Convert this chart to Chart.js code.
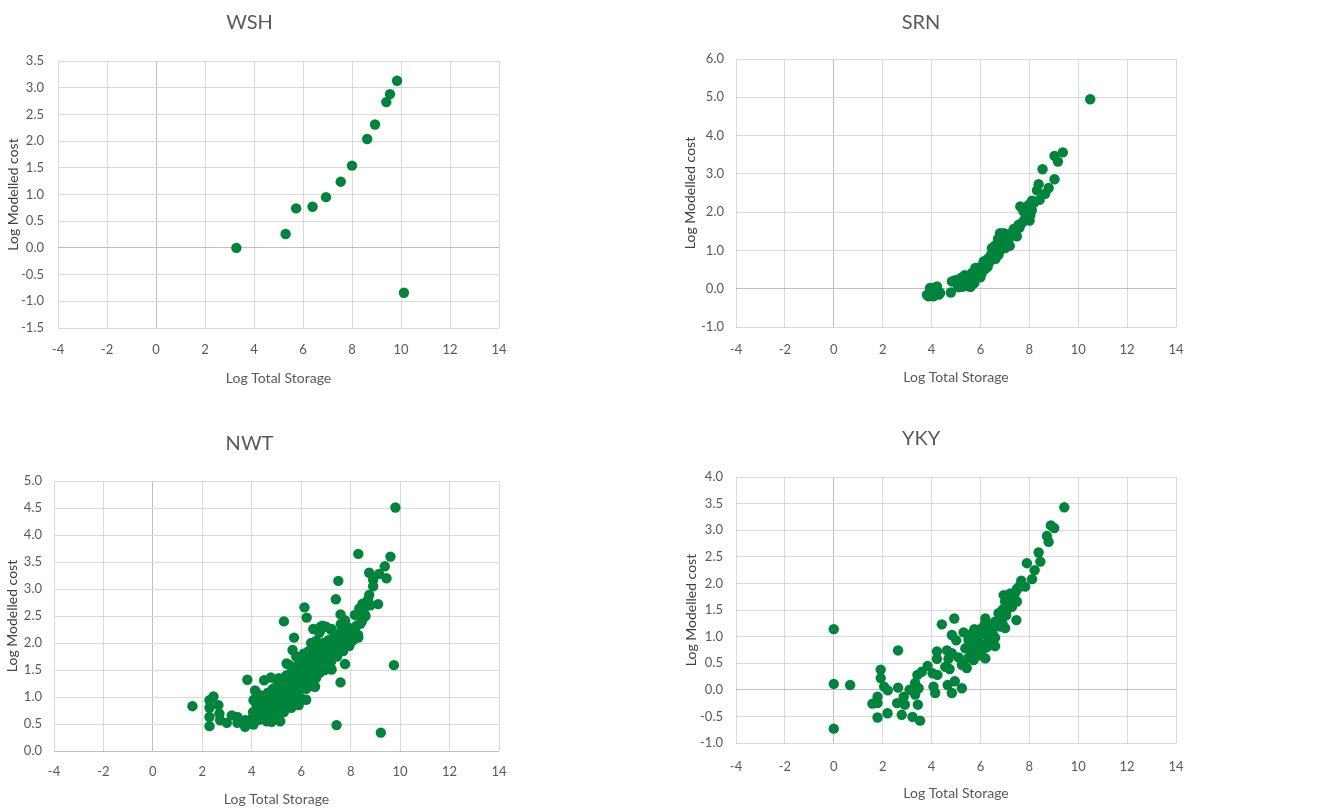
<!DOCTYPE html>
<html>
<head>
<meta charset="utf-8">
<script src="https://cdn.jsdelivr.net/npm/chart.js@4/dist/chart.umd.min.js"></script>
<style>
  html, body { margin: 0; padding: 0; background: #ffffff; }
  body { width: 1333px; height: 811px; position: relative; overflow: hidden; }
  .box { position: absolute; }
</style>
</head>
<body>
<div class="box" style="left:0;top:0;width:666px;height:405px"><canvas id="c1"></canvas></div>
<div class="box" style="left:666px;top:0;width:667px;height:405px"><canvas id="c2"></canvas></div>
<div class="box" style="left:0;top:405px;width:666px;height:406px"><canvas id="c3"></canvas></div>
<div class="box" style="left:666px;top:405px;width:667px;height:406px"><canvas id="c4"></canvas></div>
<script>
// ---------- Data ----------
const chartTitles = ["WSH", "SRN", "NWT", "YKY"];
const xAxisTitle = "Log Total Storage";
const yAxisTitle = "Log Modelled cost";
const xTicks = { min: -4, max: 14, step: 2 };

const wshX = [3.28, 5.29, 5.72, 6.39, 6.94, 7.54, 8.0, 8.62, 8.94, 9.40, 9.55, 9.84, 10.12];
const wshY = [0.0, 0.26, 0.74, 0.77, 0.95, 1.24, 1.54, 2.04, 2.31, 2.73, 2.88, 3.13, -0.84];

const srnX = [10.49, 9.37, 9.03, 9.17, 9.03, 8.54, 8.38, 8.79, 8.65, 8.31, 8.42, 8.11, 7.63, 7.76, 7.97, 8.04, 8.01, 7.87, 7.56, 7.36,
  7.49, 7.29, 6.95, 7.15, 6.88, 7.01, 6.81, 6.67, 6.54, 6.74, 6.47, 6.40, 6.26, 6.13, 6.06, 5.92, 5.79, 5.85, 5.65, 5.58,
  5.51, 5.44, 5.31, 5.17, 5.10, 4.97, 4.83, 4.79, 4.35, 4.22, 4.15, 4.01, 3.88, 3.94, 3.81, 4.08, 4.28,
  5.6, 5.7, 5.9, 6.0, 6.05, 6.2, 6.3, 6.35, 6.45, 6.55, 6.6, 6.65, 6.7, 6.75, 6.85, 6.9, 6.95, 7.05, 7.1, 7.2,
  6.5, 6.3, 6.0, 5.75, 5.5, 5.4, 5.25, 4.2, 4.1, 3.95, 4.05, 4.3, 7.6, 7.7, 7.9, 8.1, 8.2, 7.8, 6.8, 6.6,
  6.4, 6.2, 5.95, 5.85, 5.6, 5.2,
  6.58, 6.72, 6.85, 6.98, 7.08, 6.62, 6.78, 6.92, 5.45, 5.55, 5.35, 5.05];
const srnY = [4.95, 3.56, 3.47, 3.32, 2.86, 3.12, 2.73, 2.63, 2.48, 2.57, 2.32, 2.30, 2.15, 2.02, 2.19, 1.91, 1.78, 1.85, 1.67, 1.56,
  1.37, 1.45, 1.45, 1.28, 1.19, 1.06, 1.32, 1.10, 0.97, 0.89, 1.06, 0.84, 0.76, 0.71, 0.58, 0.50, 0.54, 0.32, 0.41, 0.23,
  0.06, 0.32, 0.23, 0.15, 0.04, 0.22, 0.19, -0.10, -0.11, 0.06, -0.16, -0.03, -0.20, 0.02, -0.16, -0.20, -0.07,
  0.35, 0.28, 0.42, 0.45, 0.40, 0.60, 0.68, 0.80, 0.90, 0.85, 1.00, 0.95, 1.18, 1.25, 1.05, 1.38, 1.25, 1.20, 1.35, 1.12,
  0.78, 0.58, 0.30, 0.15, 0.18, 0.12, 0.05, -0.05, 0.02, -0.12, -0.18, -0.15, 1.60, 1.72, 1.95, 2.05, 2.25, 1.80, 1.45, 0.92,
  0.72, 0.52, 0.55, 0.48, 0.05, 0.28,
  1.12, 1.30, 1.22, 1.32, 1.42, 0.78, 0.98, 1.10, 0.25, 0.15, 0.35, 0.12];

const nwtX = [9.81, 8.31, 9.61, 9.38, 8.75, 9.15, 9.45, 8.91, 8.91, 7.50, 7.40, 8.75, 9.11, 8.48, 8.80, 8.54, 8.35, 8.17, 8.40, 8.27,
  7.59, 6.13, 6.22, 5.30, 7.77, 7.94, 8.31, 6.49, 6.79, 6.73, 7.23, 5.71, 6.60, 9.75, 7.77, 7.23, 7.59, 7.43, 9.22, 5.65,
  5.41, 3.82, 4.50, 4.77, 1.60, 2.29, 2.29, 2.29, 2.29, 2.45, 2.65, 2.69, 2.72, 2.99, 3.19, 3.42, 3.42, 3.73, 3.73, 4.07,
  4.80, 4.13, 4.07, 4.34, 4.47, 4.40, 4.87, 6.56, 6.02, 6.36,
  4.05, 4.1, 4.15, 4.2, 4.25, 4.3, 4.35, 4.4, 4.45, 4.5, 4.55, 4.6, 4.65, 4.7, 4.75, 4.8, 4.85, 4.9, 4.95, 5.0,
  5.0, 5.05, 5.1, 5.1, 5.15, 5.2, 5.2, 5.25, 5.3, 5.3, 5.35, 5.4, 5.4, 5.45, 5.5, 5.5, 5.55, 5.6, 5.6, 5.65,
  5.7, 5.7, 5.75, 5.8, 5.8, 5.85, 5.9, 5.9, 5.95, 6.0, 6.0, 6.05, 6.1, 6.1, 6.15, 6.2, 6.2, 6.25, 6.3, 6.3,
  6.35, 6.4, 6.45, 6.5, 6.5, 6.55, 6.6, 6.6, 6.65, 6.7, 6.7, 6.75, 6.8, 6.85, 6.9, 6.9, 6.95, 7.0, 7.05, 7.1,
  7.15, 7.2, 7.25, 7.3, 7.35, 7.4, 7.45, 7.5, 7.55, 7.6, 7.65, 7.7, 7.75, 7.8, 7.85, 7.9, 7.95, 8.0, 8.1, 8.2,
  8.3, 8.45, 8.5, 8.6, 8.7, 5.0, 4.9, 5.3, 5.6, 5.9, 6.2, 6.5, 5.15, 4.6, 4.3, 4.0, 3.9, 5.8, 5.5, 6.4,
  6.8, 7.0, 7.2, 7.6, 6.85,
  4.8, 4.95, 5.1, 5.25, 5.4, 5.55, 5.7, 5.85, 6.0, 6.15, 6.3, 6.45, 6.6, 6.75, 6.9, 7.05, 7.2, 7.35, 7.5, 7.65,
  5.05, 5.2, 5.35, 5.5, 5.65, 5.8, 5.95, 6.1, 6.25, 6.4, 6.55, 6.7, 6.85, 7.0, 7.15, 7.3, 4.6, 4.75, 4.45, 4.25];
const nwtY = [4.51, 3.65, 3.60, 3.42, 3.30, 3.28, 3.20, 3.17, 3.05, 3.15, 2.81, 2.89, 2.72, 2.73, 2.70, 2.56, 2.64, 2.52, 2.36, 2.33,
  2.53, 2.66, 2.47, 2.40, 2.42, 2.24, 2.10, 2.26, 2.30, 2.19, 2.26, 2.10, 2.04, 1.59, 1.61, 1.51, 1.27, 0.48, 0.34, 1.87,
  1.62, 1.32, 1.31, 1.36, 0.83, 0.94, 0.80, 0.63, 0.46, 1.01, 0.85, 0.69, 0.57, 0.52, 0.66, 0.63, 0.52, 0.57, 0.45, 0.49,
  0.54, 1.12, 0.94, 1.03, 0.82, 0.63, 0.75, 1.19, 0.97, 1.25,
  0.72, 0.95, 0.62, 0.85, 1.05, 0.75, 0.90, 0.70, 1.00, 0.82, 0.95, 0.68, 1.08, 0.88, 0.75, 1.00, 1.15, 0.85, 0.95, 1.10,
  0.78, 1.25, 0.92, 1.35, 1.05, 0.80, 1.20, 1.00, 1.30, 0.88, 1.15, 1.00, 1.40, 1.22, 0.90, 1.30, 1.10, 1.45, 1.00, 1.25,
  1.55, 1.15, 1.35, 0.98, 1.50, 1.28, 1.60, 1.10, 1.42, 1.20, 1.70, 1.50, 1.30, 1.80, 1.58, 1.40, 1.15, 1.65, 1.50, 1.85,
  1.30, 1.60, 1.75, 1.45, 1.90, 1.62, 1.35, 1.80, 1.55, 1.95, 1.70, 1.45, 1.85, 1.60, 2.00, 1.75, 1.50, 1.90, 1.70, 2.05,
  1.85, 1.65, 2.00, 1.80, 2.15, 1.95, 1.75, 2.10, 1.90, 2.20, 2.00, 1.85, 2.15, 2.00, 2.30, 2.10, 1.95, 2.20, 2.05, 2.30,
  2.15, 2.40, 2.60, 2.50, 2.80, 0.65, 0.60, 0.72, 0.80, 0.85, 0.95, 1.20, 0.55, 0.55, 0.58, 0.60, 0.55, 1.75, 1.60, 2.00,
  2.25, 2.30, 2.25, 2.35, 2.32,
  0.90, 1.02, 1.12, 1.18, 1.25, 1.35, 1.42, 1.48, 1.55, 1.62, 1.70, 1.72, 1.78, 1.82, 1.88, 1.95, 1.98, 2.05, 2.02, 2.08,
  1.00, 1.08, 1.20, 1.15, 1.32, 1.22, 1.30, 1.45, 1.40, 1.52, 1.55, 1.62, 1.70, 1.75, 1.78, 1.90, 0.78, 0.92, 0.80, 0.95];

const ykyX = [9.43, 8.88, 9.02, 8.72, 8.79, 8.38, 8.45, 7.90, 8.22, 8.11, 7.67, 7.83, 7.49, 7.22, 6.95, 7.01, 7.36, 7.49, 7.29, 7.08,
  7.47, 6.74, 7.01, 6.81, 6.60, 6.47, 6.20, 6.06, 5.85, 5.75, 5.51, 5.31, 4.93, 4.42, 4.83, 5.01, 5.38, 5.65, 5.99, 6.20,
  5.72, 5.44, 5.24, 5.10, 4.83, 4.63, 4.69, 4.74, 4.56, 4.22, 4.22, 3.84, 3.60, 3.42, 4.04, 4.24, 3.47, 4.08, 4.15, 4.66,
  4.83, 4.95, 5.24, 3.33, 3.10, 3.33, 2.86, 2.91, 2.59, 2.78, 3.22, 3.53, 3.44, 2.63, 2.63, 2.21, 2.20, 2.06, 1.92, 1.92,
  1.79, 1.79, 1.58, 1.79, 0.0, 0.0, 0.0, 0.67,
  5.9, 6.0, 6.1, 6.15, 6.3, 6.35, 6.4, 6.5, 6.55, 6.6, 6.7, 6.8, 6.9, 7.0, 7.1, 7.2, 7.3, 7.4, 7.5, 7.6,
  5.8, 5.7, 5.6, 5.95, 6.05, 6.25, 6.45, 6.6, 5.5, 5.65, 6.2, 6.9, 7.05];
const ykyY = [3.43, 3.09, 3.04, 2.89, 2.78, 2.58, 2.41, 2.38, 2.25, 2.08, 2.05, 1.94, 1.88, 1.81, 1.78, 1.66, 1.66, 1.66, 1.56, 1.50,
  1.31, 1.44, 1.16, 1.19, 1.28, 1.13, 1.34, 1.16, 1.06, 1.14, 0.94, 1.08, 1.34, 1.23, 1.03, 0.93, 0.78, 0.69, 0.75, 0.59,
  0.56, 0.41, 0.47, 0.61, 0.69, 0.74, 0.58, 0.39, 0.43, 0.72, 0.58, 0.45, 0.34, 0.28, 0.31, 0.28, 0.03, 0.06, -0.06, 0.09,
  -0.06, 0.16, 0.03, 0.13, 0.0, -0.09, -0.13, -0.28, -0.25, -0.47, -0.51, -0.58, -0.28, 0.74, 0.04, -0.01, -0.44, 0.06, 0.38, 0.22,
  -0.13, -0.25, -0.26, -0.52, 1.14, 0.11, -0.73, 0.09,
  0.95, 1.05, 0.85, 1.20, 1.00, 1.10, 0.92, 1.05, 1.22, 0.98, 1.30, 1.40, 1.50, 1.55, 1.70, 1.60, 1.75, 1.80, 1.90, 1.95,
  0.85, 0.95, 0.80, 0.65, 0.72, 0.80, 0.85, 0.82, 0.60, 1.05, 1.25, 1.25, 1.40];

const yRanges = [
  { min: -1.5, max: 3.5, step: 0.5 },
  { min: -1.0, max: 6.0, step: 1.0 },
  { min: 0.0, max: 5.0, step: 0.5 },
  { min: -1.0, max: 4.0, step: 0.5 }
];

// ---------- Layout (pixels within each chart box) ----------
const layouts = [
  { W: 666, H: 405, l: 58, r: 499, t: 61, b: 328, titleCY: 23, yLabelRight: 44, yTitleX: 13, xTickCY: 350, xTitleY: 378 },
  { W: 667, H: 405, l: 70, r: 510, t: 59, b: 327, titleCY: 23, yLabelRight: 58, yTitleX: 24, xTickCY: 350, xTitleY: 377 },
  { W: 666, H: 406, l: 54, r: 499, t: 76, b: 346, titleCY: 39, yLabelRight: 42, yTitleX: 12, xTickCY: 367, xTitleY: 394 },
  { W: 667, H: 406, l: 70, r: 510, t: 72, b: 338, titleCY: 34, yLabelRight: 57, yTitleX: 25, xTickCY: 362, xTitleY: 388 }
];

const FONT = "Lato, 'Open Sans', sans-serif";
const TEXT = "#595959";
const GREEN = "#00843c";

function pairs(xs, ys) { return xs.map((x, i) => ({ x: x, y: ys[i] })); }

function gridColor(ctx) {
  return (ctx.tick && ctx.tick.value === 0) ? "#bfbfbf" : "#d9d9d9";
}

function makeChart(id, idx, xs, ys) {
  const L = layouts[idx];
  const yr = yRanges[idx];
  const titleSize = 20, titleLH = titleSize * 1.2;
  const tickSize = 13;
  const axTitleSize = 14, axLH = axTitleSize * 1.2;
  new Chart(document.getElementById(id), {
    type: "scatter",
    data: {
      datasets: [{
        data: pairs(xs, ys),
        backgroundColor: GREEN,
        borderColor: GREEN,
        borderWidth: 0,
        pointRadius: 5.2,
        pointHoverRadius: 5.2
      }]
    },
    options: {
      responsive: true,
      maintainAspectRatio: false,
      animation: false,
      events: [],
      layout: { padding: { left: 0, right: L.W - L.r, top: 0, bottom: 0 } },
      plugins: {
        legend: { display: false },
        tooltip: { enabled: false },
        title: {
          display: true,
          text: chartTitles[idx],
          color: TEXT,
          font: { family: FONT, size: titleSize, weight: "normal" },
          padding: { top: L.titleCY - titleLH / 2, bottom: L.t - L.titleCY - titleLH / 2 }
        }
      },
      scales: {
        x: {
          type: "linear",
          min: xTicks.min, max: xTicks.max,
          afterFit: (s) => { s.height = L.H - L.b; },
          ticks: {
            stepSize: xTicks.step,
            color: TEXT,
            font: { family: FONT, size: tickSize },
            padding: L.xTickCY - L.b - tickSize * 0.6,
            callback: (v) => String(v)
          },
          grid: { color: gridColor, lineWidth: 1, drawTicks: false },
          border: { display: false },
          title: {
            display: true, text: xAxisTitle, color: TEXT,
            font: { family: FONT, size: axTitleSize },
            padding: { top: 0, bottom: L.H - L.xTitleY - axLH / 2 }
          }
        },
        y: {
          type: "linear",
          min: yr.min, max: yr.max,
          afterFit: (s) => { s.width = L.l; },
          ticks: {
            stepSize: yr.step,
            color: TEXT,
            font: { family: FONT, size: tickSize },
            padding: L.l - L.yLabelRight,
            callback: (v) => Number(v).toFixed(1)
          },
          grid: { color: gridColor, lineWidth: 1, drawTicks: false },
          border: { display: false },
          title: {
            display: true, text: yAxisTitle, color: "#404040",
            font: { family: FONT, size: axTitleSize },
            padding: { top: L.yTitleX - axLH / 2, bottom: 0 }
          }
        }
      }
    }
  });
}

makeChart("c1", 0, wshX, wshY);
makeChart("c2", 1, srnX, srnY);
makeChart("c3", 2, nwtX, nwtY);
makeChart("c4", 3, ykyX, ykyY);
</script>
</body>
</html>
